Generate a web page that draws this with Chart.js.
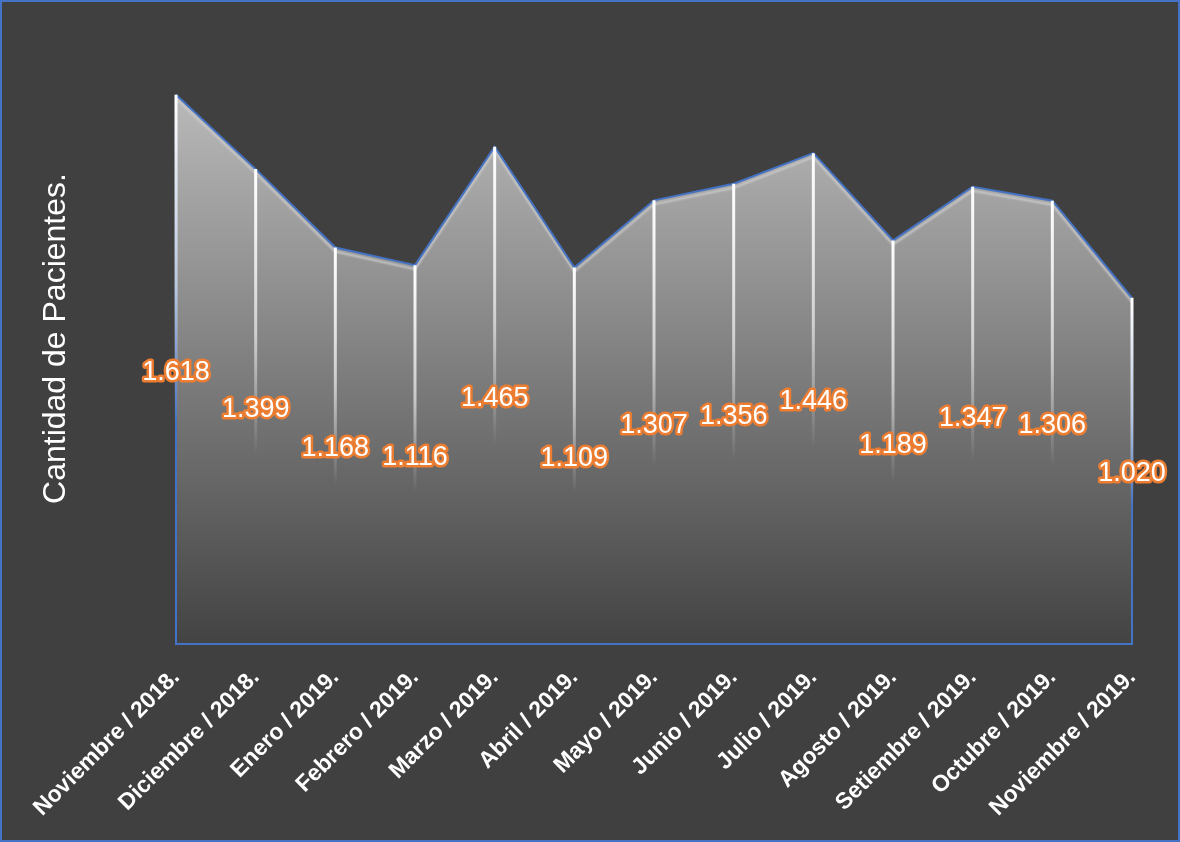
<!DOCTYPE html>
<html>
<head>
<meta charset="utf-8">
<script src="https://cdn.jsdelivr.net/npm/chart.js@4"></script>
<style>
  html, body { margin: 0; padding: 0; background: #404040; }
  #wrap { width: 1180px; height: 842px; }
</style>
</head>
<body>
<div id="wrap"><canvas id="areaChart" width="1180" height="842"></canvas></div>
<script>
var meses = ['Noviembre / 2018.', 'Diciembre / 2018.', 'Enero / 2019.', 'Febrero / 2019.', 'Marzo / 2019.',
    'Abril / 2019.', 'Mayo / 2019.', 'Junio / 2019.', 'Julio / 2019.', 'Agosto / 2019.',
    'Setiembre / 2019.', 'Octubre / 2019.', 'Noviembre / 2019.'];
var pacientes = [1618, 1399, 1168, 1116, 1465, 1109, 1307, 1356, 1446, 1189, 1347, 1306, 1020];
var etiquetas = ['1.618', '1.399', '1.168', '1.116', '1.465', '1.109', '1.307', '1.356', '1.446', '1.189', '1.347', '1.306', '1.020'];
var tituloY = 'Cantidad de Pacientes.';

var azul = '#4472C4';
var naranja = '#ED7D31';

// background, outline, drop lines and the orange labels
var adornos = {
    id: 'adornos',
    beforeDraw: function (chart) {
        var ctx = chart.ctx;
        ctx.save();
        ctx.fillStyle = '#404040';
        ctx.fillRect(0, 0, chart.width, chart.height);
        ctx.strokeStyle = azul;
        ctx.lineWidth = 2;
        ctx.strokeRect(1, 1, chart.width - 2, chart.height - 2);
        ctx.restore();
    },
    beforeDatasetDraw: function (chart) {
        var ctx = chart.ctx;
        ctx.save();
        ctx.shadowColor = 'rgba(205,205,205,0.9)';
        ctx.shadowOffsetY = 4;
        ctx.shadowBlur = 2;
    },
    afterDatasetDraw: function (chart) {
        chart.ctx.restore();
    },
    afterDatasetsDraw: function (chart) {
        var ctx = chart.ctx;
        var x = chart.scales.x, y = chart.scales.y;
        var base = chart.chartArea.bottom;
        var n = pacientes.length;

        ctx.save();
        ctx.strokeStyle = azul;
        ctx.lineWidth = 2;
        ctx.beginPath();
        ctx.moveTo(x.getPixelForValue(0), y.getPixelForValue(pacientes[0]));
        ctx.lineTo(x.getPixelForValue(0), base);
        ctx.lineTo(x.getPixelForValue(n - 1), base);
        ctx.lineTo(x.getPixelForValue(n - 1), y.getPixelForValue(pacientes[n - 1]));
        ctx.stroke();

        for (var i = 0; i < n; i++) {
            var px = x.getPixelForValue(i);
            var py = y.getPixelForValue(pacientes[i]);
            var g = ctx.createLinearGradient(0, py, 0, base);
            g.addColorStop(0, 'rgba(255,255,255,1)');
            g.addColorStop(0.35, 'rgba(255,255,255,0.6)');
            g.addColorStop(0.6, 'rgba(255,255,255,0)');
            ctx.strokeStyle = g;
            ctx.lineWidth = 3;
            ctx.beginPath();
            ctx.moveTo(px, py);
            ctx.lineTo(px, base);
            ctx.stroke();
        }

        ctx.font = '27px Arial, "Liberation Sans"';
        ctx.textAlign = 'center';
        ctx.textBaseline = 'middle';
        ctx.lineJoin = 'round';
        for (var j = 0; j < n; j++) {
            var lx = x.getPixelForValue(j);
            var ly = y.getPixelForValue(pacientes[j] / 2) + 3;
            ctx.strokeStyle = naranja;
            ctx.lineWidth = 5;
            ctx.strokeText(etiquetas[j], lx, ly);
            ctx.fillStyle = '#ffffff';
            ctx.fillText(etiquetas[j], lx, ly);
        }
        ctx.restore();
    }
};

var ctx = document.getElementById('areaChart').getContext('2d');
var myChart = new Chart(ctx, {
    type: 'line',
    data: {
        labels: meses,
        datasets: [{
            label: tituloY,
            data: pacientes,
            fill: 'origin',
            backgroundColor: function (context) {
                var chart = context.chart;
                if (!chart.chartArea) return 'rgba(150,150,150,1)';
                var top = chart.scales.y.getPixelForValue(Math.max.apply(null, pacientes));
                var g = chart.ctx.createLinearGradient(0, top, 0, chart.chartArea.bottom);
                g.addColorStop(0, '#b9b9b9');
                g.addColorStop(1, '#434343');
                return g;
            },
            borderColor: azul,
            borderWidth: 2,
            pointRadius: 0,
            tension: 0
        }]
    },
    options: {
        responsive: false,
        animation: false,
        layout: { padding: { left: 33, right: 48, top: 33, bottom: 0 } },
        plugins: {
            legend: { display: false },
            tooltip: { enabled: false }
        },
        scales: {
            x: {
                offset: false,
                grid: { display: false, drawTicks: false },
                border: { display: false },
                ticks: {
                    color: '#ffffff',
                    font: { family: 'Arial, "Liberation Sans"', size: 23, weight: 'bold' },
                    maxRotation: 45,
                    minRotation: 45,
                    autoSkip: false,
                    padding: 20
                },
                afterFit: function (scale) { scale.height = 198; }
            },
            y: {
                min: 0,
                max: 1800,
                grid: { display: false },
                border: { display: false },
                ticks: { display: false },
                title: {
                    display: true,
                    text: tituloY,
                    color: '#ffffff',
                    padding: 4,
                    font: { family: 'Arial, "Liberation Sans"', size: 32 }
                },
                afterFit: function (scale) { scale.width = 143; }
            }
        }
    },
    plugins: [adornos]
});
</script>
</body>
</html>
